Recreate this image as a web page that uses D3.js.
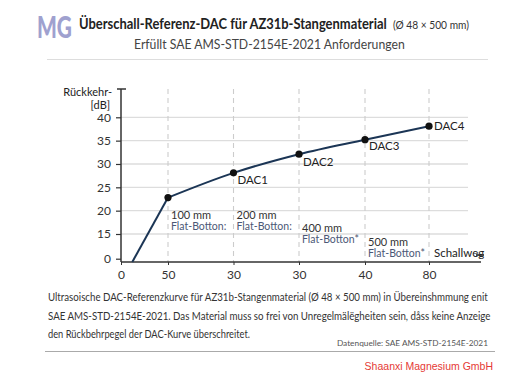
<!DOCTYPE html>
<html><head><meta charset="utf-8">
<script src="https://cdn.jsdelivr.net/npm/d3@7"></script>
<style>body{margin:0;background:#fff}svg{display:block}</style>
</head><body><svg id="c" width="526" height="381"></svg>
<script>
const xTickLabels = ["0","50","30","30","40","80"];
const yTickValues = [0,15,20,25,30,35,40];
const gridValues = [15,20,25,30,35,40];
const curveX = [0.24, 1, 2, 3, 4, 5];
const curveY = [-2, 22.8, 28.1, 32.1, 35.2, 38.1];
const dacLabels = ["", "", "DAC1", "DAC2", "DAC3", "DAC4"];
const flatSizes = ["100 mm","200 mm","400 mm","500 mm"];
const flatNotes = ["Flat-Botton:","Flat-Botton:","Flat-Botton*","Flat-Botton*"];
const bodyLines = [
 "Ultrasoische DAC-Referenzkurve für AZ31b-Stangenmaterial (Ø 48 × 500 mm) in Übereinshmmung enit",
 "SAE AMS-STD-2154E-2021. Das Material muss so frei von Unregelmälëgheiten sein, dåss keine Anzeige",
 "den Rückbehrpegel der DAC-Kurve überschreitet."
];

const svg = d3.select("#c");
const F = "Lato, 'Open Sans', sans-serif";

// place text at (x0,y0) and condense horizontally to width w
function fit(sel, x0, y0, w){
  const n = sel.node();
  const nat = n.getComputedTextLength();
  const s = Math.min(1, w / nat);
  sel.attr("x",0).attr("y",0).attr("transform",`translate(${x0},${y0}) scale(${s},1)`);
  return sel;
}

const x = d3.scaleLinear().domain([0,1,2,3,4,5]).range([121,168,233.5,299,365,429]);
const y = d3.scaleLinear().domain([0,15,40]).range([258.7,234,117.3]);
const axisY = 262, gridRight = 468, axisRight = 481;

// header
fit(svg.append("text").attr("font-family",F).attr("font-weight",900)
  .attr("font-size",31).attr("fill","#9fa1cf").text("MG"), 37, 37.5, 35);
fit(svg.append("text").attr("font-family",F).attr("fill","#222")
  .attr("font-weight",700).attr("font-size",14.5)
  .text("Überschall-Referenz-DAC für AZ31b-Stangenmaterial"), 79, 29, 308);
fit(svg.append("text").attr("font-family",F).attr("fill","#333")
  .attr("font-size",11).text("(Ø 48 × 500 mm)"), 393, 29, 76);
fit(svg.append("text").attr("font-family",F).attr("font-size",13).attr("fill","#444")
  .text("Erfüllt SAE AMS-STD-2154E-2021 Anforderungen"), 134, 49, 271);
svg.append("line").attr("x1",47).attr("x2",488).attr("y1",59.5).attr("y2",59.5).attr("stroke","#ddd").attr("stroke-width",1);

// gridlines
svg.append("g").selectAll("line").data(gridValues).join("line")
  .attr("x1",x(0)).attr("x2",gridRight).attr("y1",d=>y(d)).attr("y2",d=>y(d))
  .attr("stroke","#ddd").attr("stroke-width",1.3);
svg.append("g").selectAll("line").data(d3.range(1,6)).join("line")
  .attr("x1",d=>x(d)).attr("x2",d=>x(d)).attr("y1",89).attr("y2",axisY)
  .attr("stroke","#ccc").attr("stroke-width",1.1).attr("stroke-dasharray","5,4");

// y axis
const yAxis = d3.axisLeft(y).tickValues(yTickValues).tickSize(5).tickPadding(5);
const gy = svg.append("g").attr("transform",`translate(${x(0)},0)`).call(yAxis);
gy.select(".domain").remove();
gy.selectAll(".tick line").attr("stroke","#333").attr("stroke-width",1.2);
gy.selectAll(".tick text").attr("font-family",F).attr("font-size",12).attr("fill","#333");
svg.append("line").attr("x1",x(0)).attr("x2",x(0)).attr("y1",89).attr("y2",axisY).attr("stroke","#333").attr("stroke-width",1.5);
svg.append("line").attr("x1",x(0)-4).attr("x2",x(0)+5).attr("y1",89).attr("y2",89).attr("stroke","#333").attr("stroke-width",1.5);
const yl = svg.append("text").attr("font-family",F).attr("font-size",11).attr("fill","#222").attr("text-anchor","end");
yl.append("tspan").attr("x",112).attr("y",96).text("Rückkehr-");
yl.append("tspan").attr("x",110).attr("y",109).text("[dB]");

// x axis
const xAxis = d3.axisBottom(x).tickValues(d3.range(0,6)).tickFormat(i=>xTickLabels[i]).tickSize(3).tickPadding(5);
const gx = svg.append("g").attr("transform",`translate(0,${axisY})`).call(xAxis);
gx.select(".domain").remove();
gx.selectAll(".tick line").attr("stroke","#333");
gx.selectAll(".tick text").attr("font-family",F).attr("font-size",12).attr("fill","#333");
svg.append("line").attr("x1",x(0)).attr("x2",axisRight).attr("y1",axisY).attr("y2",axisY).attr("stroke","#333").attr("stroke-width",1.5);
svg.append("text").attr("x",434).attr("y",257).attr("font-family",F).attr("font-size",11.5).attr("fill","#222").text("Schallweg");
svg.append("line").attr("x1",476).attr("x2",484).attr("y1",255).attr("y2",255).attr("stroke","#222").attr("stroke-width",1.6);

// flat bottom annotations
const fy = [[y(20)+8, y(20)+19],[y(20)+8, y(20)+19],[y(15)-2, y(15)+9],[y(15)+12, y(15)+23]];
flatSizes.forEach((s,i)=>{
  const xx = x(i+1)+3;
  svg.append("text").attr("x",xx).attr("y",fy[i][0]).attr("font-family",F).attr("font-size",11).attr("fill","#333").text(s);
  svg.append("text").attr("x",xx).attr("y",fy[i][1]).attr("font-family",F).attr("font-size",10.5).attr("fill","#4b5876").text(flatNotes[i]);
});

// curve
const pts = curveX.map((v,i)=>({x:v,y:curveY[i],label:dacLabels[i]}));
const line = d3.line().x(d=>x(d.x)).y(d=>y(d.y));
svg.append("path").attr("d",line(pts.slice(0,2))).attr("fill","none").attr("stroke","#1b3555").attr("stroke-width",2);
svg.append("path").attr("d",line.curve(d3.curveMonotoneX)(pts.slice(1))).attr("fill","none").attr("stroke","#1b3555").attr("stroke-width",2);
svg.append("g").selectAll("circle").data(pts.slice(1)).join("circle")
  .attr("cx",d=>x(d.x)).attr("cy",d=>y(d.y)).attr("r",3.6).attr("fill","#111");
const lblOff = {DAC1:[4,11.5],DAC2:[4,12],DAC3:[4,10],DAC4:[5,4]};
svg.append("g").selectAll("text").data(pts.filter(d=>d.label)).join("text")
  .attr("x",d=>x(d.x)+lblOff[d.label][0]).attr("y",d=>y(d.y)+lblOff[d.label][1])
  .attr("font-family",F).attr("font-size",11.5).attr("fill","#222").text(d=>d.label);

// body text
const bodyW = [440, 443, 202];
bodyLines.forEach((t,i)=>{
  fit(svg.append("text").attr("font-family",F).attr("font-size",10.6).attr("fill","#333").text(t), 48, 301+i*18.5, bodyW[i]);
});
svg.append("text").attr("x",488).attr("y",346).attr("text-anchor","end").attr("font-family",F).attr("font-size",8.3)
  .attr("fill","#555").text("Datenquelle: SAE AMS-STD-2154E-2021");
svg.append("line").attr("x1",45).attr("x2",495).attr("y1",351.5).attr("y2",351.5).attr("stroke","#aaa").attr("stroke-width",1.2);
svg.append("text").attr("x",493).attr("y",369.5).attr("text-anchor","end").attr("font-family","'Liberation Sans', Arial, sans-serif")
  .attr("font-size",10.5).attr("fill","#e53935").text("Shaanxi Magnesium GmbH");
</script></body></html>
